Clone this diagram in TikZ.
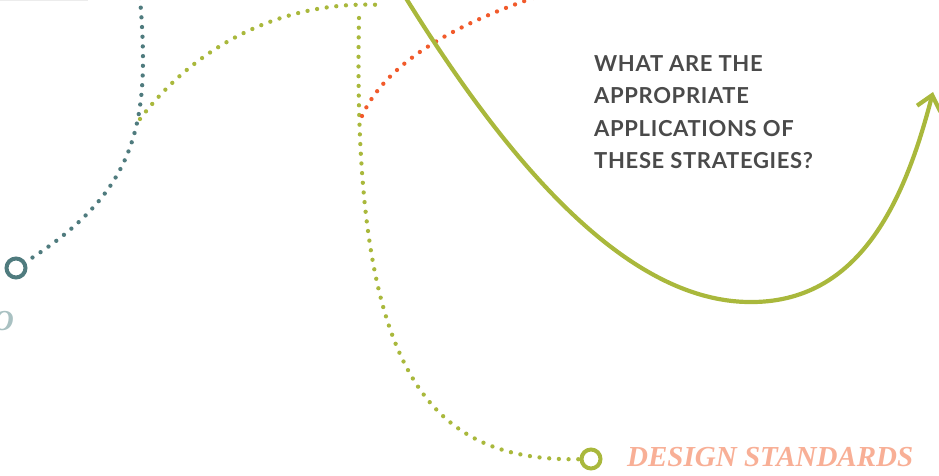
\documentclass[tikz,border=0pt]{standalone}
\usepackage{fontspec}
\usepackage{xcolor}
\definecolor{tealline}{HTML}{4F7B7E}
\definecolor{oliveline}{HTML}{A9B83C}
\definecolor{orangeline}{HTML}{F15A2B}
\definecolor{textgrey}{HTML}{4A4A4A}
\definecolor{salmon}{HTML}{F8AF96}
\definecolor{paleteal}{HTML}{A9C1C2}
\newfontfamily\questionfont{Lato}[LetterSpace=3]
\newfontfamily\labelfont{Liberation Serif}
\usetikzlibrary{arrows.meta}

\begin{document}
\begin{tikzpicture}[x=1pt, y=-1pt,
  dotline/.style={line width=4.3pt, line cap=round, dash pattern=on 0pt off 9.7pt},
  ring/.style={circle, draw, line width=4pt, minimum size=19pt, inner sep=0pt},
  question/.style={anchor=base west, inner sep=0pt, text=textgrey,
    font=\questionfont\bfseries\fontsize{22}{32}\selectfont},
  standard/.style={anchor=base west, inner sep=0pt,
    font=\labelfont\bfseries\itshape\fontsize{29}{32}\selectfont}]
  \useasboundingbox (0,0) rectangle (939,476);
  \draw[gray!15, line width=1pt] (0,0.5) -- (88,0.5);

  \node[ring, tealline]  (tealring)  at (16,268) {};
  \node[ring, oliveline] (greenring) at (591,459) {};

  \coordinate (tealtop)    at (140,-2);
  \coordinate (arcfoot)    at (140,119);
  \coordinate (archead)    at (382,5);
  \coordinate (droptop)    at (359,18);
  \coordinate (orangefoot) at (362,116);
  \coordinate (orangetop)  at (545,-6);
  \coordinate (swooptop)   at (404,-5);
  \coordinate (swooplow)   at (748,302);
  \coordinate (arrowtip)   at (933,92);

  % dotted trails
  \draw[dotline, tealline] (tealtop) .. controls (150,120) and (140,190) .. (tealring);
  \draw[dotline, oliveline] (arcfoot) .. controls (200,40) and (290,0) .. (archead);
  \draw[dotline, oliveline] (droptop) .. controls (352,360) and (420,462) .. (greenring);
  \draw[dotline, orangeline] (orangefoot) .. controls (385,65) and (450,25) .. (orangetop);

  % big swoop with the open arrow head
  \draw[oliveline, line width=4.2pt, -{Straight Barb[length=14pt, width=24pt]}]
    (swooptop) .. controls (500,150) and (620,300) .. (swooplow)
    .. controls (860,304) and (905,200) .. (arrowtip);

  \node[question] (q1) at (594,72)  {WHAT ARE THE};
  \node[question] (q2) at (594,104) {APPROPRIATE};
  \node[question] (q3) at (594,136) {APPLICATIONS OF};
  \node[question] (q4) at (594,168) {THESE STRATEGIES?};

  \node[standard, text=salmon] (standards) at (627,466) {DESIGN STANDARDS};
  \node[standard, text=paleteal, anchor=base east] (tailo) at (14,330) {O};
\end{tikzpicture}
\end{document}
